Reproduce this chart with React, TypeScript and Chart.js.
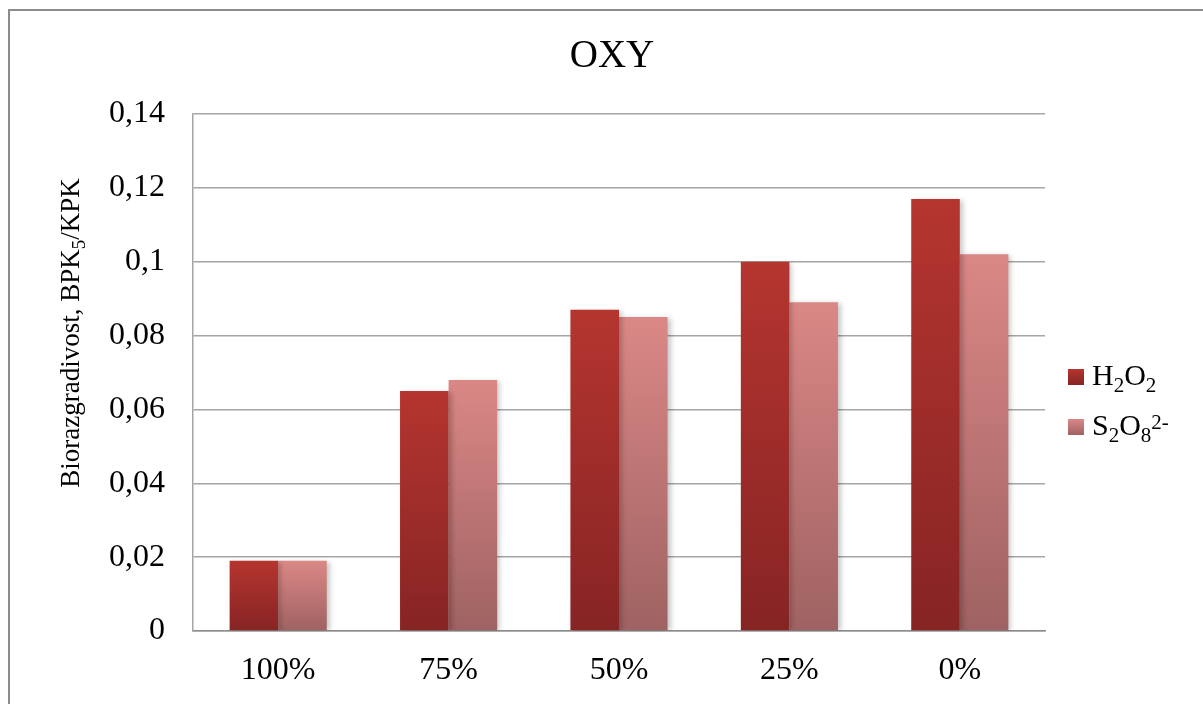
import { useEffect, useRef } from 'react';
import { Chart, registerables } from 'chart.js';

Chart.register(...registerables);

const categories = ['100%', '75%', '50%', '25%', '0%'];
const h2o2Values = [0.019, 0.065, 0.087, 0.1, 0.117];
const s2o8Values = [0.019, 0.068, 0.085, 0.089, 0.102];
const yTickLabels = ['0', '0,02', '0,04', '0,06', '0,08', '0,1', '0,12', '0,14'];
const chartTitle = 'OXY';
const seriesNames = ['H2O2', 'S2O8 2-'];
// rich text runs: [text, kind] with kind n = normal, sub = subscript, sup = superscript
const h2o2Label: [string, string][] = [['H', 'n'], ['2', 'sub'], ['O', 'n'], ['2', 'sub']];
const s2o8Label: [string, string][] = [['S', 'n'], ['2', 'sub'], ['O', 'n'], ['8', 'sub'], ['2-', 'sup']];
const yAxisTitle: [string, string][] = [['Biorazgradivost, BPK', 'n'], ['5', 'sub'], ['/KPK', 'n']];

const FONT = "'Liberation Serif', 'Times New Roman', serif";
const h2o2Colors = ['#b5352f', '#862424'];
const s2o8Colors = ['#da8886', '#9f6262'];

function runWidth(ctx: CanvasRenderingContext2D, runs: [string, string][], size: number) {
  let w = 0;
  for (const [t, k] of runs) {
    ctx.font = `${k === 'n' ? size : Math.round(size * 0.7)}px ${FONT}`;
    w += ctx.measureText(t).width;
  }
  return w;
}

function drawRuns(ctx: CanvasRenderingContext2D, runs: [string, string][], x: number, y: number, size: number) {
  let cx = x;
  for (const [t, k] of runs) {
    const s = k === 'n' ? size : Math.round(size * 0.7);
    const dy = k === 'sub' ? size * 0.23 : k === 'sup' ? -size * 0.2 : 0;
    ctx.font = `${s}px ${FONT}`;
    ctx.fillText(t, cx, y + dy);
    cx += ctx.measureText(t).width;
  }
}

function barGradient(chart: any, value: number, colors: string[]) {
  const { chartArea } = chart;
  if (!chartArea || !chart.scales.y) return colors[0];
  const ys = chart.scales.y;
  const top = ys.getPixelForValue(value);
  const bottom = ys.getPixelForValue(0);
  if (!isFinite(top) || !isFinite(bottom) || top === bottom) return colors[0];
  const g = chart.ctx.createLinearGradient(0, top, 0, bottom);
  g.addColorStop(0, colors[0]);
  g.addColorStop(1, colors[1]);
  return g;
}

const titleShiftPlugin = {
  id: 'titleShift',
  afterLayout(chart: any) {
    // centre the title over the region used in the reference
    if (chart.titleBlock) chart.titleBlock.left = 179;
  },
};

const shadowPlugin = {
  id: 'barShadow',
  beforeDatasetsDraw(chart: any) {
    const c = chart.ctx;
    c.save();
    c.shadowColor = 'rgba(0,0,0,0.22)';
    c.shadowBlur = 5;
    c.shadowOffsetX = 3;
    c.shadowOffsetY = 1;
  },
  afterDatasetsDraw(chart: any) {
    chart.ctx.restore();
  },
};

const textPlugin = {
  id: 'richText',
  afterDraw(chart: any) {
    const c: CanvasRenderingContext2D = chart.ctx;
    c.save();
    c.fillStyle = '#000';
    c.textAlign = 'left';
    c.textBaseline = 'alphabetic';
    // y axis title (rotated)
    const ySize = 27;
    const w = runWidth(c, yAxisTitle, ySize);
    c.save();
    c.translate(70, 333);
    c.rotate(-Math.PI / 2);
    drawRuns(c, yAxisTitle, -w / 2, ySize * 0.33, ySize);
    c.restore();
    // legend
    const entries = [
      { runs: h2o2Label, colors: h2o2Colors, y: 369 },
      { runs: s2o8Label, colors: s2o8Colors, y: 419 },
    ];
    for (const e of entries) {
      const g = c.createLinearGradient(0, e.y, 0, e.y + 16);
      g.addColorStop(0, e.colors[0]);
      g.addColorStop(1, e.colors[1]);
      c.fillStyle = g;
      c.fillRect(1068, e.y, 16, 16);
      c.fillStyle = '#000';
      drawRuns(c, e.runs, 1092, e.y + 16, 30);
    }
    c.restore();
  },
};

export default function App() {
  const ref = useRef<HTMLCanvasElement | null>(null);
  useEffect(() => {
    if (!ref.current) return;
    Chart.defaults.font.family = FONT;
    const chart = new Chart(ref.current, {
      type: 'bar',
      data: {
        labels: categories,
        datasets: [
          {
            label: seriesNames[0],
            data: h2o2Values,
            backgroundColor: (ctx: any) => barGradient(ctx.chart, ctx.raw ?? 0, h2o2Colors),
            borderWidth: 0,
            categoryPercentage: 0.57,
            barPercentage: 1,
          },
          {
            label: seriesNames[1],
            data: s2o8Values,
            backgroundColor: (ctx: any) => barGradient(ctx.chart, ctx.raw ?? 0, s2o8Colors),
            borderWidth: 0,
            categoryPercentage: 0.57,
            barPercentage: 1,
          },
        ],
      },
      options: {
        animation: false,
        responsive: true,
        maintainAspectRatio: false,
        layout: { padding: { left: 0, right: 158, top: 0, bottom: 0 } },
        plugins: {
          legend: { display: false },
          tooltip: { enabled: false },
          title: {
            display: true,
            text: chartTitle,
            color: '#000',
            font: { family: FONT, size: 39, weight: 'normal' },
            padding: { top: 33, bottom: 34.2 },
          },
        },
        scales: {
          x: {
            grid: { display: false, drawTicks: false },
            border: { display: true, color: '#8e8e8e', width: 1.5 },
            ticks: { color: '#000', font: { family: FONT, size: 32 }, padding: 20 },
            afterFit: (s: any) => { s.height = 73; },
          },
          y: {
            min: 0,
            max: 0.14,
            ticks: {
              stepSize: 0.02,
              color: '#000',
              font: { family: FONT, size: 32 },
              padding: 28,
              callback: (_v: any, i: number) => yTickLabels[i],
            },
            grid: { color: '#a5a5a5', lineWidth: 1.5, drawTicks: false },
            border: { display: true, color: '#a5a5a5', width: 1.5 },
            afterFit: (s: any) => { s.width = 193; },
          },
        },
      },
      plugins: [titleShiftPlugin, shadowPlugin, textPlugin],
    } as any);
    return () => chart.destroy();
  }, []);
  return (
    <>
      <div
        style={{
          position: 'fixed',
          left: 8,
          top: 9,
          right: -50,
          bottom: -50,
          borderTop: '2px solid #8c8c8c',
          borderLeft: '2px solid #8c8c8c',
          pointerEvents: 'none',
        }}
      />
      <div style={{ position: 'fixed', left: 0, top: 0, width: 1203, height: 704 }}>
        <canvas ref={ref} />
      </div>
    </>
  );
}
